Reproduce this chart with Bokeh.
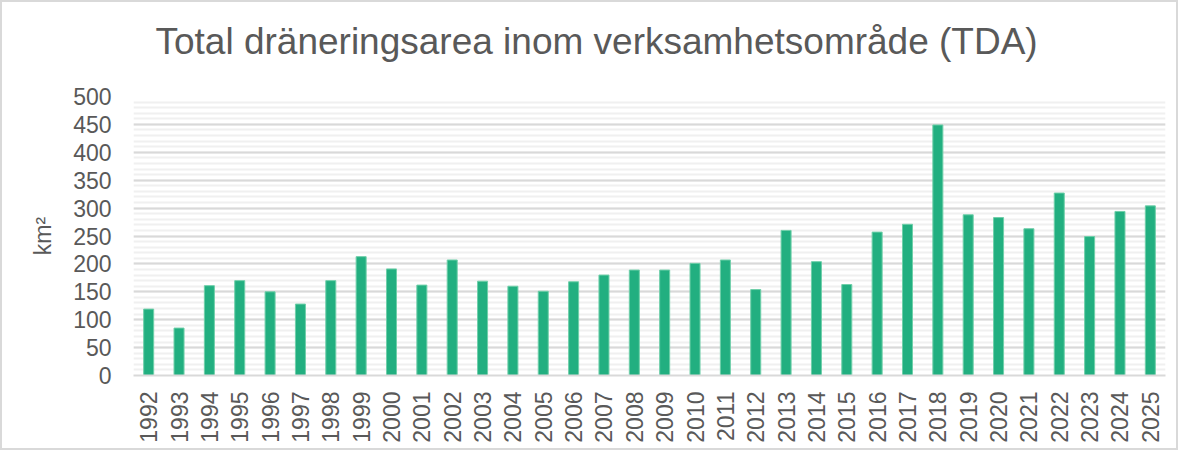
import math
from bokeh.plotting import figure
from bokeh.models import SingleIntervalTicker, Title, Range1d
from bokeh.embed import file_html
from bokeh.resources import INLINE

years = [str(y) for y in range(1992, 2026)]
values = [119, 85, 161, 170, 150, 128, 170, 213, 191, 162, 207,
          169, 160, 151, 168, 180, 189, 189, 201, 207, 154,
          260, 204, 163, 257, 271, 449, 288, 283, 263, 327, 249, 294, 304]
title_text = "Total dräneringsarea inom verksamhetsområde (TDA)"
y_label = "km²"

FONT = "Liberation Sans"
TXT = "#595959"

p = figure(x_range=years, width=1178, height=450, output_backend="svg",
           toolbar_location=None, tools="",
           min_border_left=131, min_border_right=15,
           min_border_top=94, min_border_bottom=77)
p.styles = {"border": "2px solid #d9d9d9"}
p.y_range = Range1d(0, 500)

p.vbar(x=years, top=values, width=0.33, fill_color="#22AF80",
       line_color="#6fcfa9", line_width=1)

p.outline_line_color = None
p.background_fill_color = "white"
p.border_fill_color = "white"

# y axis
p.yaxis.ticker = SingleIntervalTicker(interval=50, num_minor_ticks=5)
p.yaxis.axis_line_color = None
p.yaxis.major_tick_line_color = None
p.yaxis.minor_tick_line_color = None
p.yaxis.major_tick_out = 0
p.yaxis.minor_tick_out = 0
p.yaxis.major_tick_in = 0
p.yaxis.minor_tick_in = 0
p.yaxis.major_label_standoff = 22
p.yaxis.major_label_text_font = FONT
p.yaxis.major_label_text_font_size = "23px"
p.yaxis.major_label_text_color = TXT
p.yaxis.axis_label = y_label
p.yaxis.axis_label_text_font = FONT
p.yaxis.axis_label_text_font_size = "23px"
p.yaxis.axis_label_text_font_style = "normal"
p.yaxis.axis_label_text_color = TXT
p.yaxis.axis_label_standoff = 14

# x axis
p.xaxis.axis_line_color = "#d9d9d9"
p.xaxis.axis_line_width = 2
p.xaxis.major_tick_line_color = None
p.xaxis.minor_tick_line_color = None
p.xaxis.major_tick_out = 0
p.xaxis.minor_tick_out = 0
p.xaxis.major_tick_in = 0
p.xaxis.minor_tick_in = 0
p.xaxis.major_label_orientation = math.pi / 2
p.xaxis.major_label_standoff = 16
p.xaxis.major_label_text_font = FONT
p.xaxis.major_label_text_font_size = "23px"
p.xaxis.major_label_text_color = TXT

# grids
p.xgrid.grid_line_color = None
p.ygrid.grid_line_color = "#d9d9d9"
p.ygrid.grid_line_width = 2
p.ygrid.minor_grid_line_color = "#f0f0f0"
p.ygrid.minor_grid_line_width = 2
p.x_range.range_padding = 0

# spacer between frame and title (nearest to the frame)
spacer = Title(text=" ", text_font=FONT, text_font_size="10px",
               text_color="white", standoff=22)
p.add_layout(spacer, "above")

title = Title(text=title_text, text_font=FONT, text_font_size="37px",
              text_color=TXT, text_font_style="normal", align="left",
              offset=22, standoff=0)
p.add_layout(title, "above")

open("out.html", "w").write(file_html(p, INLINE))
